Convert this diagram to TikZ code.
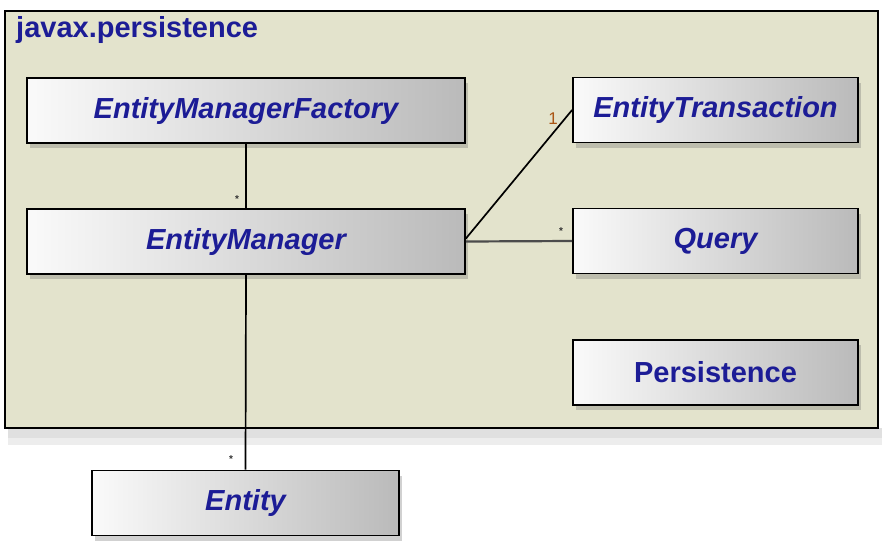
\documentclass[tikz,border=0pt]{standalone}
\usepackage{fontspec}
\setmainfont{Liberation Sans}
\usetikzlibrary{shadows}
\definecolor{pkgfill}{RGB}{227,227,204}
\definecolor{txtblue}{RGB}{28,28,150}
\definecolor{oneclr}{RGB}{170,85,20}
\begin{document}
\begin{tikzpicture}[x=1pt,y=-1pt,
  cls/.style={draw=black, line width=1.8pt, left color=white!96!gray, right color=black!27,
    minimum height=65pt, inner sep=0pt, font=\fontsize{29}{32}\selectfont\bfseries\itshape,
    text=txtblue,
    drop shadow={shadow xshift=3pt, shadow yshift=-5pt, opacity=0.3, fill=black!60}},
  mult/.style={font=\fontsize{10}{11}\selectfont\bfseries, text=black!80, inner sep=0pt},
  conn/.style={draw=black, line width=1.7pt}]
\useasboundingbox (0,0) rectangle (884,542);
% package frame
\fill[black, opacity=0.12] (8,428) rectangle (882,438);
\fill[black, opacity=0.07] (8,438) rectangle (882,445);
\draw[line width=1.5pt, fill=pkgfill] (5,11) rectangle (878,428);
\node[anchor=base west, inner sep=0pt, text=txtblue,
  font=\fontsize{29}{32}\selectfont\bfseries] (pkg) at (16,37) {javax.persistence};
% classes
\node[cls, minimum width=438pt] (emf) at (246,110.5) {EntityManagerFactory};
\node[cls, minimum width=438pt] (em) at (246,241.5) {EntityManager};
\node[cls, minimum width=285pt] (et) at (715.5,110) {EntityTransaction};
\node[cls, minimum width=285pt] (qu) at (715.5,241) {Query};
\node[cls, minimum width=285pt, font=\fontsize{29}{32}\selectfont\bfseries] (pe) at (715.5,372.5) {Persistence};
\node[cls, minimum width=307pt] (en) at (245.5,503) {Entity};
% connectors
\draw[conn] (emf.south) -- (em.north);
\draw[conn] (em.south) -- (en.north);
\draw[conn] ([yshift=3pt]em.east) -- (et.west);
\draw[conn, draw=black!70, line width=2.2pt] (em.east) -- (qu.west);
% multiplicities
\node[mult] (m1) at (237,199) {*};
\node[mult] (m2) at (561,231) {*};
\node[mult] (m3) at (231,459) {*};
\node[inner sep=0pt, text=oneclr, font=\fontsize{17}{18}\selectfont] (m4) at (553,119) {1};
\end{tikzpicture}
\end{document}
